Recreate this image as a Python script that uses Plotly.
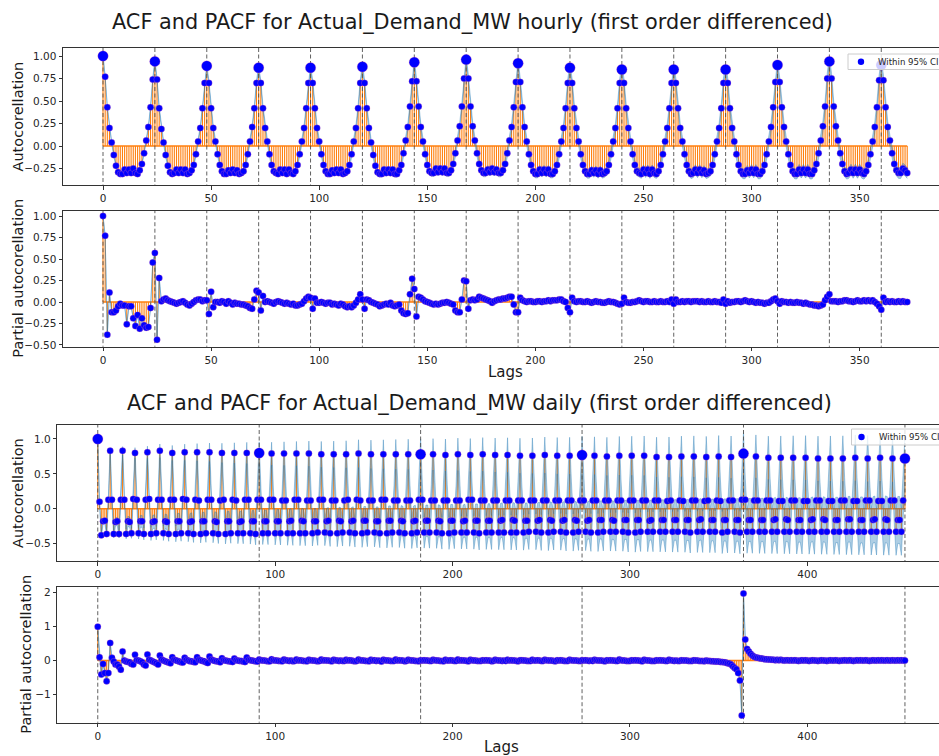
import numpy as np
import plotly.graph_objects as go

# ---------------- data ----------------
acf_hourly = [
    1.00, 0.77, 0.43, 0.20, 0.04, -0.10, -0.22, -0.29, -0.31, -0.31, -0.26, -0.30, -0.26, -0.30, -0.25, -0.30, -0.31, -0.27, -0.20, -0.08, 0.06, 0.21, 0.43, 0.74,
    0.94, 0.74, 0.42, 0.19, 0.04, -0.10, -0.22, -0.29, -0.31, -0.30, -0.26, -0.30, -0.26, -0.30, -0.26, -0.31, -0.30, -0.27, -0.21, -0.09, 0.05, 0.20, 0.42, 0.70,
    0.89, 0.70, 0.42, 0.20, 0.05, -0.09, -0.21, -0.28, -0.31, -0.31, -0.27, -0.30, -0.26, -0.30, -0.27, -0.31, -0.30, -0.28, -0.21, -0.09, 0.05, 0.21, 0.42, 0.70,
    0.87, 0.70, 0.42, 0.20, 0.05, -0.09, -0.21, -0.28, -0.30, -0.31, -0.26, -0.30, -0.26, -0.31, -0.26, -0.30, -0.31, -0.28, -0.21, -0.09, 0.05, 0.20, 0.42, 0.70,
    0.87, 0.70, 0.42, 0.20, 0.05, -0.09, -0.21, -0.28, -0.31, -0.31, -0.27, -0.30, -0.26, -0.30, -0.26, -0.31, -0.30, -0.28, -0.21, -0.09, 0.05, 0.20, 0.42, 0.70,
    0.88, 0.70, 0.42, 0.20, 0.04, -0.10, -0.22, -0.29, -0.31, -0.31, -0.26, -0.30, -0.26, -0.30, -0.26, -0.31, -0.31, -0.27, -0.21, -0.08, 0.06, 0.21, 0.44, 0.72,
    0.93, 0.72, 0.44, 0.21, 0.05, -0.09, -0.21, -0.28, -0.30, -0.30, -0.25, -0.29, -0.25, -0.29, -0.25, -0.30, -0.30, -0.27, -0.20, -0.08, 0.06, 0.22, 0.44, 0.75,
    0.96, 0.75, 0.44, 0.22, 0.06, -0.08, -0.20, -0.27, -0.30, -0.30, -0.26, -0.29, -0.25, -0.29, -0.26, -0.30, -0.30, -0.27, -0.20, -0.08, 0.06, 0.21, 0.43, 0.71,
    0.92, 0.71, 0.43, 0.21, 0.05, -0.09, -0.21, -0.28, -0.31, -0.31, -0.26, -0.30, -0.26, -0.30, -0.26, -0.31, -0.31, -0.28, -0.21, -0.09, 0.05, 0.20, 0.42, 0.70,
    0.87, 0.70, 0.42, 0.20, 0.05, -0.09, -0.21, -0.28, -0.31, -0.31, -0.27, -0.30, -0.27, -0.31, -0.27, -0.31, -0.30, -0.28, -0.21, -0.09, 0.05, 0.20, 0.42, 0.70,
    0.85, 0.70, 0.42, 0.20, 0.05, -0.09, -0.21, -0.28, -0.30, -0.31, -0.26, -0.30, -0.26, -0.31, -0.26, -0.30, -0.31, -0.28, -0.21, -0.09, 0.05, 0.20, 0.42, 0.70,
    0.85, 0.70, 0.42, 0.20, 0.05, -0.09, -0.21, -0.28, -0.31, -0.30, -0.26, -0.30, -0.26, -0.30, -0.27, -0.31, -0.30, -0.28, -0.21, -0.09, 0.05, 0.20, 0.42, 0.70,
    0.85, 0.70, 0.42, 0.20, 0.05, -0.09, -0.21, -0.28, -0.31, -0.31, -0.27, -0.30, -0.26, -0.30, -0.26, -0.31, -0.31, -0.28, -0.21, -0.09, 0.05, 0.21, 0.43, 0.71,
    0.90, 0.71, 0.43, 0.21, 0.05, -0.09, -0.21, -0.28, -0.31, -0.31, -0.26, -0.30, -0.26, -0.30, -0.26, -0.31, -0.31, -0.27, -0.20, -0.08, 0.06, 0.22, 0.44, 0.75,
    0.94, 0.75, 0.44, 0.22, 0.06, -0.08, -0.20, -0.28, -0.31, -0.30, -0.26, -0.30, -0.26, -0.30, -0.26, -0.30, -0.31, -0.28, -0.21, -0.09, 0.05, 0.21, 0.43, 0.73,
    0.90, 0.73, 0.43, 0.21, 0.06, -0.08, -0.20, -0.27, -0.30, -0.30, -0.25, -0.27, -0.30,
]

pacf_hourly = [
    1.00, 0.77, -0.38, 0.11, -0.12, -0.12, -0.10, -0.05, -0.02, -0.04, -0.04, -0.26, -0.05, -0.05, -0.19, -0.28, -0.15, -0.31, -0.19, -0.27, -0.30, -0.29, -0.07, 0.46,
    0.57, -0.44, 0.28, 0.01, 0.03, 0.04, 0.02, 0.01, 0.00, -0.01, -0.02, -0.01, 0.00, 0.01, -0.01, -0.03, -0.04, -0.02, 0.00, 0.02, 0.03, 0.03, 0.01, 0.02,
    0.02, -0.14, 0.12, -0.06, 0.00, 0.00, -0.01, 0.01, 0.00, -0.02, 0.01, -0.01, -0.03, -0.01, -0.02, -0.02, -0.03, -0.03, -0.04, -0.05, -0.07, -0.08, 0.03, 0.13,
    0.11, -0.10, 0.07, 0.00, 0.01, 0.00, -0.01, -0.02, 0.00, 0.01, 0.00, -0.01, -0.02, -0.01, -0.02, -0.03, -0.02, -0.04, -0.04, -0.03, -0.02, 0.01, 0.04, 0.06,
    0.05, -0.08, 0.04, -0.01, -0.01, 0.00, -0.01, -0.02, -0.01, -0.01, -0.03, -0.02, -0.03, -0.04, -0.02, -0.03, -0.05, -0.06, -0.05, -0.06, -0.04, -0.01, 0.03, 0.09,
    0.03, -0.08, 0.03, 0.02, 0.00, -0.01, -0.02, -0.03, -0.05, -0.04, -0.03, -0.02, -0.03, -0.01, -0.04, -0.05, -0.04, -0.03, -0.10, -0.13, -0.14, -0.13, 0.09, 0.27,
    0.15, -0.17, 0.06, 0.05, 0.03, 0.01, 0.00, -0.01, -0.02, -0.03, -0.02, -0.03, -0.02, -0.01, -0.01, 0.00, -0.01, -0.02, -0.03, -0.10, -0.12, -0.12, 0.03, 0.25,
    0.24, -0.08, 0.02, 0.03, 0.02, 0.03, 0.06, 0.05, 0.04, 0.03, 0.02, 0.01, -0.01, 0.01, 0.02, 0.03, 0.03, 0.04, 0.04, 0.05, 0.06, 0.06, -0.03, -0.12,
    -0.12, 0.05, 0.02, 0.01, 0.00, 0.01, 0.01, 0.00, 0.00, 0.01, 0.01, 0.00, 0.01, 0.01, 0.02, 0.01, 0.02, 0.02, 0.02, 0.03, 0.03, 0.01, 0.00, -0.07,
    -0.12, 0.05, 0.01, 0.00, 0.01, 0.01, 0.00, 0.00, 0.01, 0.00, -0.01, 0.00, 0.01, 0.00, 0.00, -0.01, -0.01, 0.00, 0.01, 0.00, 0.00, -0.01, -0.02, -0.03,
    -0.02, 0.05, 0.00, -0.01, -0.01, 0.00, 0.00, 0.01, 0.02, 0.01, 0.00, 0.01, 0.01, 0.00, 0.00, 0.01, 0.00, 0.00, 0.01, 0.00, 0.00, 0.01, 0.00, 0.03,
    -0.02, 0.03, 0.00, 0.00, 0.01, 0.00, 0.01, 0.01, 0.00, 0.01, 0.01, 0.01, 0.00, 0.01, 0.00, 0.00, 0.01, 0.00, 0.00, 0.01, 0.00, 0.00, -0.01, 0.03,
    -0.02, 0.01, -0.01, 0.00, 0.00, 0.01, 0.01, 0.00, 0.01, 0.02, 0.01, 0.00, 0.01, 0.00, -0.01, 0.00, -0.01, -0.01, -0.02, -0.01, -0.01, 0.01, 0.03, 0.04,
    0.01, -0.02, 0.01, 0.00, 0.00, -0.01, 0.00, -0.01, -0.01, 0.00, -0.01, -0.01, -0.02, -0.01, -0.02, -0.03, -0.03, -0.04, -0.04, -0.05, -0.04, -0.03, 0.02, 0.06,
    0.09, 0.01, 0.01, 0.01, 0.00, 0.01, 0.01, 0.02, 0.02, 0.01, 0.01, 0.00, 0.01, 0.02, 0.01, 0.01, 0.02, 0.01, 0.02, 0.01, 0.02, 0.00, -0.02, -0.05,
    -0.09, 0.05, 0.00, 0.01, 0.00, 0.01, 0.00, 0.00, 0.01, 0.00, 0.01, 0.00, 0.00,
]

acf_daily = [
    1.00, 0.10, -0.38, -0.18, -0.17, -0.36, 0.13,
    0.83, 0.13, -0.36, -0.19, -0.18, -0.36, 0.13,
    0.83, 0.13, -0.36, -0.18, -0.19, -0.35, 0.14,
    0.80, 0.13, -0.35, -0.18, -0.18, -0.36, 0.13,
    0.81, 0.14, -0.36, -0.19, -0.18, -0.35, 0.13,
    0.83, 0.13, -0.35, -0.18, -0.19, -0.36, 0.13,
    0.80, 0.13, -0.36, -0.18, -0.18, -0.35, 0.14,
    0.81, 0.13, -0.35, -0.19, -0.18, -0.36, 0.13,
    0.81, 0.12, -0.36, -0.18, -0.18, -0.35, 0.13,
    0.81, 0.13, -0.35, -0.18, -0.19, -0.36, 0.12,
    0.80, 0.13, -0.36, -0.18, -0.18, -0.35, 0.13,
    0.80, 0.12, -0.35, -0.19, -0.18, -0.35, 0.13,
    0.80, 0.13, -0.35, -0.18, -0.18, -0.36, 0.13,
    0.80, 0.13, -0.35, -0.18, -0.18, -0.35, 0.13,
    0.79, 0.13, -0.35, -0.18, -0.18, -0.35, 0.12,
    0.79, 0.12, -0.35, -0.18, -0.17, -0.35, 0.13,
    0.79, 0.13, -0.35, -0.17, -0.18, -0.35, 0.12,
    0.79, 0.12, -0.35, -0.18, -0.18, -0.34, 0.13,
    0.78, 0.13, -0.34, -0.18, -0.17, -0.35, 0.12,
    0.78, 0.12, -0.35, -0.17, -0.18, -0.34, 0.12,
    0.78, 0.13, -0.34, -0.18, -0.17, -0.35, 0.13,
    0.79, 0.12, -0.35, -0.17, -0.17, -0.34, 0.12,
    0.78, 0.12, -0.34, -0.18, -0.18, -0.35, 0.13,
    0.78, 0.13, -0.35, -0.17, -0.17, -0.34, 0.12,
    0.78, 0.12, -0.34, -0.17, -0.18, -0.35, 0.12,
    0.78, 0.12, -0.35, -0.18, -0.17, -0.34, 0.13,
    0.78, 0.13, -0.34, -0.17, -0.17, -0.34, 0.12,
    0.78, 0.12, -0.34, -0.17, -0.18, -0.35, 0.12,
    0.77, 0.12, -0.35, -0.17, -0.17, -0.34, 0.12,
    0.78, 0.12, -0.34, -0.18, -0.17, -0.34, 0.13,
    0.77, 0.13, -0.34, -0.17, -0.17, -0.35, 0.12,
    0.78, 0.12, -0.34, -0.17, -0.17, -0.34, 0.12,
    0.77, 0.12, -0.34, -0.17, -0.16, -0.34, 0.12,
    0.77, 0.12, -0.34, -0.16, -0.17, -0.34, 0.12,
    0.76, 0.12, -0.34, -0.17, -0.17, -0.33, 0.12,
    0.76, 0.12, -0.33, -0.17, -0.16, -0.34, 0.12,
    0.77, 0.12, -0.34, -0.16, -0.17, -0.33, 0.12,
    0.76, 0.12, -0.33, -0.17, -0.16, -0.34, 0.12,
    0.76, 0.12, -0.34, -0.16, -0.17, -0.33, 0.12,
    0.77, 0.12, -0.33, -0.17, -0.16, -0.34, 0.12,
    0.76, 0.12, -0.34, -0.16, -0.16, -0.33, 0.12,
    0.75, 0.12, -0.33, -0.16, -0.17, -0.33, 0.12,
    0.76, 0.12, -0.33, -0.16, -0.16, -0.34, 0.12,
    0.76, 0.12, -0.34, -0.16, -0.16, -0.33, 0.12,
    0.76, 0.12, -0.33, -0.17, -0.16, -0.33, 0.12,
    0.74, 0.12, -0.33, -0.16, -0.16, -0.33, 0.11,
    0.74, 0.12, -0.33, -0.16, -0.16, -0.33, 0.12,
    0.75, 0.11, -0.33, -0.16, -0.16, -0.34, 0.12,
    0.75, 0.12, -0.33, -0.16, -0.15, -0.33, 0.11,
    0.74, 0.12, -0.33, -0.16, -0.16, -0.33, 0.12,
    0.75, 0.11, -0.34, -0.16, -0.16, -0.33, 0.12,
    0.74, 0.12, -0.33, -0.16, -0.16, -0.34, 0.13,
    0.79, 0.13, -0.33, -0.16, -0.16, -0.33, 0.12,
    0.75, 0.12, -0.33, -0.16, -0.16, -0.33, 0.12,
    0.73, 0.12, -0.33, -0.16, -0.15, -0.33, 0.11,
    0.73, 0.11, -0.33, -0.15, -0.16, -0.33, 0.12,
    0.73, 0.12, -0.33, -0.16, -0.16, -0.33, 0.11,
    0.73, 0.11, -0.33, -0.16, -0.15, -0.33, 0.12,
    0.72, 0.12, -0.33, -0.15, -0.16, -0.33, 0.11,
    0.72, 0.11, -0.33, -0.16, -0.16, -0.33, 0.12,
    0.72, 0.12, -0.33, -0.15, -0.15, -0.33, 0.11,
    0.73, 0.11, -0.33, -0.16, -0.16, -0.33, 0.12,
    0.72, 0.12, -0.33, -0.16, -0.15, -0.33, 0.11,
    0.73, 0.11, -0.33, -0.15, -0.16, -0.33, 0.12,
    0.72, 0.12, -0.33, -0.16, -0.16, -0.33, 0.12,
    0.72,
]

pacf_daily = [
    1.00, 0.10, -0.41, -0.10, -0.37, -0.61, -0.37,
    0.52, 0.08, -0.03, -0.12, -0.12, -0.18, -0.27,
    0.27, 0.00, -0.03, -0.04, -0.05, -0.10, -0.12,
    0.17, 0.01, 0.00, -0.02, -0.05, -0.12, -0.15,
    0.18, 0.02, 0.00, -0.03, -0.05, -0.08, -0.12,
    0.15, 0.03, 0.00, -0.02, -0.04, -0.06, -0.08,
    0.10, 0.02, 0.01, -0.01, -0.03, -0.05, -0.06,
    0.08, 0.02, 0.00, -0.02, -0.02, -0.04, -0.05,
    0.10, 0.02, 0.01, -0.01, -0.02, -0.05, -0.07,
    0.12, 0.03, 0.01, -0.01, -0.02, -0.03, -0.05,
    0.07, 0.01, 0.00, -0.01, -0.02, -0.03, -0.04,
    0.06, 0.01, 0.00, -0.01, -0.01, -0.03, -0.04,
    0.09, 0.02, 0.01, 0.00, -0.01, -0.02, -0.03,
    0.03, 0.01, 0.00, 0.00, -0.01, -0.02, -0.02,
    0.04, 0.01, 0.00, 0.00, -0.01, -0.01, -0.02,
    0.03, 0.01, 0.00, -0.01, 0.00, -0.02, -0.01,
    0.03, 0.00, 0.01, 0.00, -0.01, -0.01, -0.02,
    0.02, 0.01, 0.00, 0.00, -0.01, -0.02, -0.01,
    0.03, 0.00, 0.01, 0.00, 0.00, -0.01, -0.02,
    0.02, 0.01, 0.00, -0.01, 0.00, -0.01, -0.01,
    0.02, 0.00, 0.01, 0.00, -0.01, -0.02, -0.01,
    0.03, 0.01, 0.00, 0.00, -0.01, -0.01, -0.02,
    0.02, 0.00, 0.01, -0.01, 0.00, -0.01, -0.03,
    0.02, 0.01, 0.00, 0.00, -0.01, -0.01, -0.01,
    0.03, 0.00, 0.01, 0.00, 0.00, -0.02, -0.01,
    0.02, 0.01, 0.00, 0.00, -0.01, -0.01, -0.02,
    0.01, 0.00, 0.01, 0.00, 0.00, -0.01, -0.01,
    0.02, 0.01, 0.00, 0.00, -0.01, -0.01, -0.02,
    0.02, 0.00, 0.00, 0.01, 0.00, -0.01, -0.01,
    0.03, 0.00, 0.01, 0.00, 0.00, -0.01, -0.02,
    0.02, 0.01, 0.00, 0.00, -0.01, -0.01, -0.01,
    0.01, 0.00, 0.01, 0.00, 0.00, -0.02, -0.01,
    0.02, 0.01, 0.00, 0.00, -0.01, 0.00, -0.01,
    0.02, 0.00, 0.01, 0.00, 0.00, -0.01, -0.02,
    0.01, 0.01, 0.00, 0.00, -0.01, -0.01, -0.01,
    0.02, 0.00, 0.00, 0.01, 0.00, -0.01, -0.01,
    0.02, 0.01, 0.00, 0.00, 0.00, -0.01, -0.02,
    0.01, 0.00, 0.01, 0.00, -0.01, -0.01, -0.01,
    0.02, 0.01, 0.00, 0.00, 0.00, -0.01, -0.01,
    0.01, 0.00, 0.01, 0.00, -0.01, 0.00, -0.01,
    0.02, 0.01, 0.00, 0.00, 0.00, -0.01, -0.02,
    0.01, 0.00, 0.01, 0.00, 0.00, -0.01, -0.01,
    0.03, 0.01, 0.00, 0.00, -0.01, -0.01, -0.01,
    0.01, 0.00, 0.01, 0.00, 0.00, -0.01, -0.02,
    0.02, 0.01, 0.00, 0.00, -0.01, -0.01, -0.01,
    0.01, 0.00, 0.01, 0.00, 0.00, -0.01, -0.01,
    0.02, 0.01, 0.00, -0.01, 0.00, -0.01, -0.01,
    0.01, 0.00, 0.00, 0.00, -0.01, -0.01, -0.01,
    0.01, 0.00, 0.00, -0.01, -0.01, -0.01, -0.02,
    0.00, -0.01, -0.01, -0.02, -0.02, -0.03, -0.03,
    -0.03, -0.04, -0.04, -0.05, -0.06, -0.08, -0.09,
    -0.12, -0.17, -0.22, -0.26, -0.37, -0.59, -1.62,
    1.98, 0.62, 0.34, 0.27, 0.20, 0.15, 0.11,
    0.09, 0.08, 0.07, 0.06, 0.05, 0.04, 0.04,
    0.03, 0.03, 0.02, 0.02, 0.01, 0.02, 0.01,
    0.02, 0.01, 0.00, 0.01, 0.01, 0.00, 0.01,
    0.00, 0.01, 0.00, -0.01, 0.00, 0.01, 0.00,
    0.01, 0.00, -0.01, 0.00, 0.01, 0.00, 0.00,
    -0.01, 0.00, 0.01, 0.00, 0.00, -0.01, 0.00,
    0.01, 0.00, 0.00, 0.01, 0.00, -0.01, 0.00,
    0.00, 0.01, 0.00, 0.00, 0.01, 0.00, -0.01,
    0.00, 0.01, 0.00, 0.01, 0.00, 0.00, 0.01,
    0.00, -0.01, 0.00, 0.01, 0.00, 0.00, 0.01,
    0.00, 0.01, 0.00, 0.00, 0.01, 0.00, 0.00,
    0.01, 0.00, 0.00, 0.01, 0.00, 0.01, 0.00,
    0.00,
]

seasonal_lags_hourly = [0, 24, 48, 72, 96, 120, 144, 168, 192, 216, 240, 264, 288, 312, 336, 360]
seasonal_lags_daily = [0, 91, 182, 273, 364, 455]
n_obs_hourly = 110000
n_obs_daily = 4000

titles = ["ACF and PACF for Actual_Demand_MW hourly (first order differenced)",
          "ACF and PACF for Actual_Demand_MW daily (first order differenced)"]
legend_label = "Within 95% CI"

# ---------------- helpers ----------------
ORANGE = "#ff7f0e"
BAND = "rgba(31,119,180,0.36)"
W, H = 939, 756


def bartlett_halfwidth(r, nobs):
    r = np.asarray(r, dtype=float)
    var = np.ones(len(r)) / nobs
    var[0] = 0.0
    var[2:] *= 1 + 2 * np.cumsum(r[1:-1] ** 2)
    return 1.959964 * np.sqrt(var)


def pacf_halfwidth(r, nobs):
    hw = np.full(len(r), 1.959964 / np.sqrt(nobs))
    hw[0] = 0.0
    return hw


fig = go.Figure()


def add_panel(idx, vals, halfw, seasonal, big_dots):
    xa = "x" if idx == 1 else "x%d" % idx
    ya = "y" if idx == 1 else "y%d" % idx
    lags = list(range(len(vals)))
    common = dict(xaxis=xa, yaxis=ya, hoverinfo="skip", showlegend=False)
    sx, sy = [], []
    for k, v in zip(lags, vals):
        sx += [k, k, None]
        sy += [0, v, None]
    fig.add_trace(go.Scatter(x=sx, y=sy, mode="lines", line=dict(color=ORANGE, width=1.1), **common))
    fig.add_trace(go.Scatter(x=[lags[0], lags[-1]], y=[0, 0], mode="lines",
                             line=dict(color=ORANGE, width=1.6), **common))
    v = np.asarray(vals, dtype=float)
    lo = v - halfw
    hi = v + halfw
    fig.add_trace(go.Scatter(x=lags, y=lo, mode="lines", line=dict(color=BAND, width=1), **common))
    fig.add_trace(go.Scatter(x=lags, y=hi, mode="lines", fill="tonexty", fillcolor=BAND,
                             line=dict(color=BAND, width=1), **common))
    dx, dy = [], []
    for s in seasonal:
        dx += [s, s, None]
        dy += [-100, 100, None]
    fig.add_trace(go.Scatter(x=dx, y=dy, mode="lines",
                             line=dict(color="rgba(80,80,80,0.9)", width=1, dash="4px,2.5px"), **common))
    mk = dict(color="#0000ff", size=6.5, line=dict(color="rgba(255,120,170,0.45)", width=0.6))
    fig.add_trace(go.Scatter(x=lags, y=vals, mode="markers", marker=mk, name=legend_label, **common))
    if big_dots:
        bx = [s for s in seasonal if s < len(vals)]
        by = [vals[s] for s in bx]
        fig.add_trace(go.Scatter(x=bx, y=by, mode="markers", name=legend_label,
                                 marker=dict(color="#0000ff", size=10.5,
                                             line=dict(color="rgba(255,120,170,0.45)", width=0.6)),
                                 **common))


add_panel(1, acf_hourly, bartlett_halfwidth(acf_hourly, n_obs_hourly), seasonal_lags_hourly, True)
add_panel(2, pacf_hourly, pacf_halfwidth(pacf_hourly, n_obs_hourly), seasonal_lags_hourly, False)
add_panel(3, acf_daily, bartlett_halfwidth(acf_daily, n_obs_daily), seasonal_lags_daily, True)
add_panel(4, pacf_daily, pacf_halfwidth(pacf_daily, n_obs_daily), seasonal_lags_daily, False)


def ydom(top_px, bot_px):
    return [1 - bot_px / H, 1 - top_px / H]


axis_common = dict(showline=True, linecolor="#333333", linewidth=1, ticks="outside", ticklen=3.5,
                   tickwidth=1, tickcolor="#333333", tickfont=dict(size=10.5, color="#262626"),
                   showgrid=False, zeroline=False, fixedrange=True)

panels = [
    (63.0, 48.0, 185.0, [-18.5, 386.7], [-0.433, 1.089], [0, 50, 100, 150, 200, 250, 300, 350],
     [-0.25, 0, 0.25, 0.5, 0.75, 1.0], ".2f"),
    (63.0, 210.7, 346.7, [-18.5, 386.7], [-0.52, 1.062], [0, 50, 100, 150, 200, 250, 300, 350],
     [-0.5, -0.25, 0, 0.25, 0.5, 0.75, 1.0], ".2f"),
    (57.3, 425.0, 561.0, [-22.8, 474.2], [-0.748, 1.2], [0, 100, 200, 300, 400],
     [-0.5, 0, 0.5, 1.0], ".1f"),
    (57.3, 586.7, 722.7, [-22.8, 474.2], [-1.835, 2.18], [0, 100, 200, 300, 400],
     [-1, 0, 1, 2], "d"),
]

layout_axes = {}
for i, (xl, yt, yb, xr, yr, xt, yt_vals, yfmt) in enumerate(panels, start=1):
    xname = "xaxis" if i == 1 else "xaxis%d" % i
    yname = "yaxis" if i == 1 else "yaxis%d" % i
    anchor_x = "y" if i == 1 else "y%d" % i
    anchor_y = "x" if i == 1 else "x%d" % i
    layout_axes[xname] = dict(domain=[xl / W, 1.0], range=xr, tickvals=xt, anchor=anchor_x,
                              mirror=True, **axis_common)
    layout_axes[yname] = dict(domain=ydom(yt, yb), range=yr, tickvals=yt_vals, tickformat=yfmt,
                              anchor=anchor_y, mirror=False, **axis_common)

fig.update_layout(**layout_axes)

TXT = "#1a1a1a"
ann = []
ann.append(dict(text=titles[0], x=472.5 / W, y=1 - 22 / H, font=dict(size=20.8, color=TXT)))
ann.append(dict(text=titles[1], x=479 / W, y=1 - 403 / H, font=dict(size=20.8, color=TXT)))
ann.append(dict(text="Lags", x=506 / W, y=1 - 372 / H, font=dict(size=15, color=TXT)))
ann.append(dict(text="Lags", x=501 / W, y=1 - 746.5 / H, font=dict(size=15, color=TXT)))
ann.append(dict(text="Autocorellation", x=18 / W, y=1 - 116.5 / H, textangle=-90,
                font=dict(size=14.5, color=TXT)))
ann.append(dict(text="Partial autocorellation", x=18 / W, y=1 - 278.7 / H, textangle=-90,
                font=dict(size=14.5, color=TXT)))
ann.append(dict(text="Autocorellation", x=18 / W, y=1 - 493 / H, textangle=-90,
                font=dict(size=14.5, color=TXT)))
ann.append(dict(text="Partial autocorellation", x=26 / W, y=1 - 654.7 / H, textangle=-90,
                font=dict(size=14.5, color=TXT)))
for a in ann:
    a.update(xref="paper", yref="paper", showarrow=False, xanchor="center", yanchor="middle")

# legend boxes (matplotlib-like), one per ACF panel
shapes = []
for (bx0, by0, by1, mx, my, tx) in [(848.0, 54.0, 69.5, 861.0, 61.7, 876.0),
                                     (851.5, 429.0, 445.0, 861.5, 437.0, 876.5)]:
    shapes.append(dict(type="rect", xref="paper", yref="paper", x0=bx0 / W, x1=946 / W,
                       y0=1 - by1 / H, y1=1 - by0 / H, fillcolor="rgba(255,255,255,0.8)",
                       line=dict(color="#cccccc", width=1), layer="above"))
    r = 3.2
    shapes.append(dict(type="circle", xref="paper", yref="paper", x0=(mx - r) / W, x1=(mx + r) / W,
                       y0=1 - (my + r) / H, y1=1 - (my - r) / H, fillcolor="#0000ff",
                       line=dict(width=0), layer="above"))
    ann.append(dict(text=legend_label, x=tx / W, y=1 - (my + 0.3) / H, xref="paper", yref="paper",
                    showarrow=False, xanchor="left", yanchor="middle",
                    font=dict(size=8.6, color="#262626")))

fig.update_layout(
    width=W, height=H,
    margin=dict(l=0, r=0, t=0, b=0, autoexpand=False),
    paper_bgcolor="white", plot_bgcolor="white",
    font=dict(family="DejaVu Sans", color="#262626"),
    annotations=ann,
    shapes=shapes,
    showlegend=False,
)

fig.write_html("out.html")
